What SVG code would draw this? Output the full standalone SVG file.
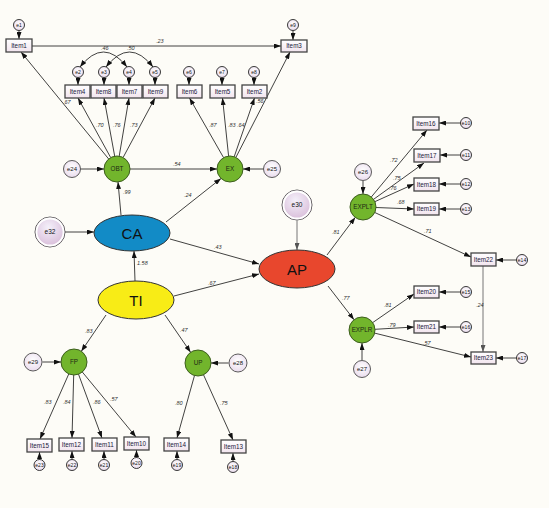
<svg xmlns="http://www.w3.org/2000/svg" width="549" height="508" viewBox="0 0 549 508">
<defs>
<marker id="ah" markerUnits="userSpaceOnUse" markerWidth="7" markerHeight="5" refX="7" refY="2.5" orient="auto-start-reverse"><path d="M0,0 L7,2.5 L0,5 z" fill="#111"/></marker>
<marker id="ahg" markerUnits="userSpaceOnUse" markerWidth="7" markerHeight="5" refX="7" refY="2.5" orient="auto"><path d="M0,0 L7,2.5 L0,5 z" fill="#555"/></marker>
<radialGradient id="eg" cx="0.45" cy="0.35" r="0.7"><stop offset="0" stop-color="#f4f0fa"/><stop offset="1" stop-color="#d6b8d6"/></radialGradient>
<radialGradient id="egs" cx="0.5" cy="0.4" r="0.7"><stop offset="0" stop-color="#ffffff"/><stop offset="1" stop-color="#e6d6ea"/></radialGradient>
<linearGradient id="bg" x1="0" y1="0" x2="0" y2="1"><stop offset="0" stop-color="#ffffff"/><stop offset="1" stop-color="#f2e4ee"/></linearGradient>
</defs>
<style>
.ln{stroke:#111;stroke-width:0.8;fill:none;marker-end:url(#ah)}
.lg{stroke:#666;stroke-width:0.9;fill:none;marker-end:url(#ahg)}
.cov{stroke:#111;stroke-width:0.8;fill:none;marker-start:url(#ah);marker-end:url(#ah)}
.it rect{fill:url(#bg);stroke:#444;stroke-width:1.3}
.it text{font-family:"Liberation Sans",Arial,sans-serif;font-size:6.3px;fill:#1a1a3a;text-anchor:middle}
.es circle{fill:url(#egs);stroke:#222;stroke-width:0.9}
.es text{font-family:"Liberation Sans",Arial,sans-serif;font-size:5px;fill:#111;text-anchor:middle}
.em circle{fill:url(#egs);stroke:#333;stroke-width:0.8}
.em text{font-family:"Liberation Sans",Arial,sans-serif;font-size:6px;fill:#111;text-anchor:middle}
.eb .o{fill:url(#eg);stroke:#444;stroke-width:0.9}
.eb .r{fill:none;stroke:#fff;stroke-width:1.8}
.eb text{font-family:"Liberation Sans",Arial,sans-serif;font-size:6.5px;fill:#111;text-anchor:middle}
.lv circle{fill:#72b52c;stroke:#3d5e1e;stroke-width:1}
.lv text{font-family:"Liberation Sans",Arial,sans-serif;font-size:6.3px;fill:#1e2a14;text-anchor:middle}
.big ellipse{stroke:#333;stroke-width:1}
.big text{font-family:"Liberation Sans",Arial,sans-serif;font-size:15px;fill:#111;text-anchor:middle}
.lb{font-family:"Liberation Sans",Arial,sans-serif;font-size:5.5px;font-style:italic;fill:#333}
</style>
<rect width="549" height="508" fill="#fdfcf7"/>

<g id="connectors">
<line class="ln" x1="19" y1="30.5" x2="19" y2="39"/>
<line class="ln" x1="293" y1="30.5" x2="293" y2="40"/>
<line class="ln" x1="78" y1="77.5" x2="78" y2="85"/>
<line class="ln" x1="104" y1="77.5" x2="104" y2="85"/>
<line class="ln" x1="129" y1="77.5" x2="129" y2="85"/>
<line class="ln" x1="155" y1="77.5" x2="155" y2="85"/>
<line class="ln" x1="189" y1="77.5" x2="189" y2="85"/>
<line class="ln" x1="222" y1="77.5" x2="222" y2="85"/>
<line class="ln" x1="254" y1="77.5" x2="254" y2="85"/>
<path class="cov" d="M80,67 Q103.5,37 127,67"/>
<path class="cov" d="M106,67 Q129.5,37 153,67"/>
<line class="ln" x1="32" y1="46" x2="281" y2="46"/>
<line class="ln" x1="108.7" y1="159" x2="21" y2="52"/>
<line class="ln" x1="110.7" y1="157.6" x2="78" y2="98"/>
<line class="ln" x1="114.7" y1="156.2" x2="104" y2="98"/>
<line class="ln" x1="119.2" y1="156.2" x2="129" y2="98"/>
<line class="ln" x1="123.1" y1="157.5" x2="155" y2="98"/>
<line class="ln" x1="223.6" y1="157.7" x2="189.5" y2="98"/>
<line class="ln" x1="228.6" y1="156.1" x2="222.5" y2="98"/>
<line class="ln" x1="234.2" y1="156.7" x2="254.5" y2="98"/>
<line class="ln" x1="235.9" y1="157.4" x2="290" y2="52"/>
<line class="ln" x1="80.5" y1="169" x2="104" y2="169"/>
<line class="ln" x1="263.5" y1="169" x2="243" y2="169"/>
<line class="ln" x1="130" y1="169" x2="217" y2="169"/>
<line class="ln" x1="121" y1="215" x2="118" y2="182"/>
<line class="ln" x1="166" y1="222" x2="221" y2="178.5"/>
<line class="ln" x1="65" y1="232" x2="94" y2="232"/>
<line class="ln" x1="135" y1="281" x2="134" y2="251"/>
<line class="ln" x1="170" y1="239" x2="259" y2="264"/>
<line class="ln" x1="174" y1="296" x2="259" y2="274"/>
<line class="lg" x1="297" y1="220.5" x2="297" y2="250"/>
<line class="ln" x1="327" y1="255" x2="355.2" y2="217.4"/>
<line class="ln" x1="328" y1="286" x2="354" y2="319.7"/>
<line class="ln" x1="363" y1="181" x2="363" y2="194"/>
<line class="ln" x1="362" y1="360" x2="362" y2="343"/>
<line class="ln" x1="371.3" y1="197" x2="427" y2="130"/>
<line class="ln" x1="373.5" y1="199.4" x2="424" y2="163"/>
<line class="ln" x1="374.8" y1="201.7" x2="414" y2="184"/>
<line class="ln" x1="376" y1="207.5" x2="414" y2="209"/>
<line class="ln" x1="374.8" y1="212.5" x2="471" y2="257"/>
<line class="ln" x1="461" y1="123" x2="439" y2="123"/>
<line class="ln" x1="461" y1="155" x2="440" y2="155"/>
<line class="ln" x1="461" y1="184" x2="439" y2="184"/>
<line class="ln" x1="461" y1="209" x2="439" y2="209"/>
<line class="ln" x1="517" y1="260" x2="496" y2="260"/>
<line class="ln" x1="461" y1="292" x2="439" y2="292"/>
<line class="ln" x1="461" y1="327" x2="439" y2="327"/>
<line class="ln" x1="517" y1="358" x2="496" y2="358"/>
<line class="lg" x1="483" y1="266" x2="483" y2="352"/>
<line class="ln" x1="372.7" y1="322.6" x2="414" y2="294"/>
<line class="ln" x1="375" y1="329.3" x2="414" y2="327"/>
<line class="ln" x1="374.6" y1="333.1" x2="471" y2="357"/>
<line class="ln" x1="106" y1="315" x2="81.3" y2="351.3"/>
<line class="ln" x1="165" y1="315" x2="190.6" y2="352.3"/>
<line class="ln" x1="42.5" y1="362" x2="61" y2="362"/>
<line class="ln" x1="228.5" y1="363" x2="211" y2="363"/>
<line class="ln" x1="68.8" y1="373.9" x2="40" y2="439"/>
<line class="ln" x1="73.7" y1="375" x2="72" y2="438"/>
<line class="ln" x1="78.5" y1="374.2" x2="102" y2="438"/>
<line class="ln" x1="82.3" y1="372" x2="136" y2="437"/>
<line class="ln" x1="194.5" y1="375.5" x2="177" y2="438"/>
<line class="ln" x1="203.5" y1="374.8" x2="233" y2="440"/>
<line class="ln" x1="39.5" y1="460" x2="39.5" y2="452"/>
<line class="ln" x1="72" y1="460" x2="72" y2="451"/>
<line class="ln" x1="104" y1="460" x2="104" y2="451"/>
<line class="ln" x1="136.5" y1="458" x2="136.5" y2="450"/>
<line class="ln" x1="177" y1="460" x2="177" y2="451"/>
<line class="ln" x1="233" y1="462" x2="233" y2="453"/>
</g>

<g id="labels">
<text class="lb" x="156" y="43">.23</text>
<text class="lb" x="101" y="50">.46</text>
<text class="lb" x="127" y="50">.50</text>
<text class="lb" x="63" y="104">.67</text>
<text class="lb" x="96" y="127">.70</text>
<text class="lb" x="113" y="127">.76</text>
<text class="lb" x="130" y="127">.73</text>
<text class="lb" x="209" y="127">.87</text>
<text class="lb" x="228" y="127">.83</text>
<text class="lb" x="237" y="127">.64</text>
<text class="lb" x="256" y="103">.56</text>
<text class="lb" x="173" y="166">.54</text>
<text class="lb" x="123" y="194">.99</text>
<text class="lb" x="184" y="197">.24</text>
<text class="lb" x="137" y="265">1.58</text>
<text class="lb" x="214" y="249">.43</text>
<text class="lb" x="208" y="285">.67</text>
<text class="lb" x="332" y="234">.81</text>
<text class="lb" x="342" y="300">.77</text>
<text class="lb" x="390" y="162">.72</text>
<text class="lb" x="393" y="180">.75</text>
<text class="lb" x="389" y="190">.76</text>
<text class="lb" x="397" y="204">.68</text>
<text class="lb" x="424" y="233">.71</text>
<text class="lb" x="476" y="307">.24</text>
<text class="lb" x="384" y="307">.81</text>
<text class="lb" x="388" y="327">.79</text>
<text class="lb" x="423" y="345">.57</text>
<text class="lb" x="85" y="333">.83</text>
<text class="lb" x="180" y="332">.47</text>
<text class="lb" x="44" y="404">.83</text>
<text class="lb" x="63" y="404">.84</text>
<text class="lb" x="93" y="404">.86</text>
<text class="lb" x="110" y="401">.57</text>
<text class="lb" x="175" y="405">.80</text>
<text class="lb" x="220" y="405">.75</text>
</g>

<g id="Item1" class="it"><rect x="6" y="39" width="26" height="13"/><text x="19" y="47.8">Item1</text></g>
<g id="Item3" class="it"><rect x="281" y="40" width="26" height="12"/><text x="294" y="48.3">Item3</text></g>
<g id="Item4" class="it"><rect x="65" y="85" width="25" height="13"/><text x="77.5" y="93.8">Item4</text></g>
<g id="Item8" class="it"><rect x="91" y="85" width="25" height="13"/><text x="103.5" y="93.8">Item8</text></g>
<g id="Item7" class="it"><rect x="117" y="85" width="25" height="13"/><text x="129.5" y="93.8">Item7</text></g>
<g id="Item9" class="it"><rect x="143" y="85" width="25" height="13"/><text x="155.5" y="93.8">Item9</text></g>
<g id="Item6" class="it"><rect x="177" y="85" width="25" height="13"/><text x="189.5" y="93.8">Item6</text></g>
<g id="Item5" class="it"><rect x="210" y="85" width="25" height="13"/><text x="222.5" y="93.8">Item5</text></g>
<g id="Item2" class="it"><rect x="242" y="85" width="25" height="13"/><text x="254.5" y="93.8">Item2</text></g>
<g id="Item16" class="it"><rect x="413" y="117" width="26" height="13"/><text x="426" y="125.8">Item16</text></g>
<g id="Item17" class="it"><rect x="414" y="149" width="26" height="13"/><text x="427" y="157.8">Item17</text></g>
<g id="Item18" class="it"><rect x="414" y="178" width="25" height="13"/><text x="426.5" y="186.8">Item18</text></g>
<g id="Item19" class="it"><rect x="414" y="203" width="25" height="12"/><text x="426.5" y="211.3">Item19</text></g>
<g id="Item22" class="it"><rect x="471" y="253" width="25" height="13"/><text x="483.5" y="261.8">Item22</text></g>
<g id="Item20" class="it"><rect x="414" y="286" width="25" height="12"/><text x="426.5" y="294.3">Item20</text></g>
<g id="Item21" class="it"><rect x="414" y="321" width="25" height="12"/><text x="426.5" y="329.3">Item21</text></g>
<g id="Item23" class="it"><rect x="471" y="352" width="25" height="12"/><text x="483.5" y="360.3">Item23</text></g>
<g id="Item15" class="it"><rect x="27" y="439" width="25" height="13"/><text x="39.5" y="447.8">Item15</text></g>
<g id="Item12" class="it"><rect x="59" y="438" width="25" height="13"/><text x="71.5" y="446.8">Item12</text></g>
<g id="Item11" class="it"><rect x="92" y="438" width="25" height="13"/><text x="104.5" y="446.8">Item11</text></g>
<g id="Item10" class="it"><rect x="124" y="437" width="25" height="13"/><text x="136.5" y="445.8">Item10</text></g>
<g id="Item14" class="it"><rect x="164" y="438" width="25" height="13"/><text x="176.5" y="446.8">Item14</text></g>
<g id="Item13" class="it"><rect x="221" y="440" width="25" height="13"/><text x="233.5" y="448.8">Item13</text></g>

<g id="e1" class="es"><circle cx="19" cy="25" r="5.5"/><text x="19" y="26.8">e1</text></g>
<g id="e9" class="es"><circle cx="293" cy="25" r="5.5"/><text x="293" y="26.8">e9</text></g>
<g id="e2" class="es"><circle cx="78" cy="72" r="5.5"/><text x="78" y="73.8">e2</text></g>
<g id="e3" class="es"><circle cx="104" cy="72" r="5.5"/><text x="104" y="73.8">e3</text></g>
<g id="e4" class="es"><circle cx="129" cy="72" r="5.5"/><text x="129" y="73.8">e4</text></g>
<g id="e5" class="es"><circle cx="155" cy="72" r="5.5"/><text x="155" y="73.8">e5</text></g>
<g id="e6" class="es"><circle cx="189" cy="72" r="5.5"/><text x="189" y="73.8">e6</text></g>
<g id="e7" class="es"><circle cx="222" cy="72" r="5.5"/><text x="222" y="73.8">e7</text></g>
<g id="e8" class="es"><circle cx="254" cy="72" r="5.5"/><text x="254" y="73.8">e8</text></g>
<g id="e10" class="es"><circle cx="466" cy="123" r="5.5"/><text x="466" y="124.8">e10</text></g>
<g id="e11" class="es"><circle cx="466" cy="155" r="5.5"/><text x="466" y="156.8">e11</text></g>
<g id="e12" class="es"><circle cx="466" cy="184" r="5.5"/><text x="466" y="185.8">e12</text></g>
<g id="e13" class="es"><circle cx="466" cy="209" r="5.5"/><text x="466" y="210.8">e13</text></g>
<g id="e14" class="es"><circle cx="522" cy="260" r="5.5"/><text x="522" y="261.8">e14</text></g>
<g id="e15" class="es"><circle cx="466" cy="292" r="5.5"/><text x="466" y="293.8">e15</text></g>
<g id="e16" class="es"><circle cx="466" cy="327" r="5.5"/><text x="466" y="328.8">e16</text></g>
<g id="e17" class="es"><circle cx="522" cy="358" r="5.5"/><text x="522" y="359.8">e17</text></g>
<g id="e23" class="es"><circle cx="39.5" cy="465" r="5.5"/><text x="39.5" y="466.8">e23</text></g>
<g id="e22" class="es"><circle cx="72" cy="465" r="5.5"/><text x="72" y="466.8">e22</text></g>
<g id="e21" class="es"><circle cx="104" cy="465" r="5.5"/><text x="104" y="466.8">e21</text></g>
<g id="e20" class="es"><circle cx="136.5" cy="463" r="5.5"/><text x="136.5" y="464.8">e20</text></g>
<g id="e19" class="es"><circle cx="177" cy="465" r="5.5"/><text x="177" y="466.8">e19</text></g>
<g id="e18" class="es"><circle cx="233" cy="467" r="5.5"/><text x="233" y="468.8">e18</text></g>

<g id="e24" class="em"><circle cx="72" cy="169" r="8.5"/><text x="72" y="171">e24</text></g>
<g id="e25" class="em"><circle cx="272" cy="169" r="8.5"/><text x="272" y="171">e25</text></g>
<g id="e26" class="em"><circle cx="363" cy="172" r="8.5"/><text x="363" y="174">e26</text></g>
<g id="e27" class="em"><circle cx="362" cy="369" r="8.5"/><text x="362" y="371">e27</text></g>
<g id="e29" class="em"><circle cx="33" cy="362" r="9"/><text x="33" y="364">e29</text></g>
<g id="e28" class="em"><circle cx="238" cy="363" r="9"/><text x="238" y="365">e28</text></g>

<g id="e32" class="eb"><circle class="o" cx="50" cy="232" r="15"/><circle class="r" cx="50" cy="232" r="13.5"/><text x="50" y="234.3">e32</text></g>
<g id="e30" class="eb"><circle class="o" cx="297" cy="205" r="15"/><circle class="r" cx="297" cy="205" r="13.5"/><text x="297" y="207.3">e30</text></g>

<g id="OBT" class="lv"><circle cx="117" cy="169" r="13"/><text x="117" y="171.2">OBT</text></g>
<g id="EX" class="lv"><circle cx="230" cy="169" r="13"/><text x="230" y="171.2">EX</text></g>
<g id="EXPLT" class="lv"><circle cx="363" cy="207" r="13"/><text x="363" y="209.2">EXPLT</text></g>
<g id="EXPLR" class="lv"><circle cx="362" cy="330" r="13"/><text x="362" y="332.2">EXPLR</text></g>
<g id="FP" class="lv"><circle cx="74" cy="362" r="13"/><text x="74" y="364.2">FP</text></g>
<g id="UP" class="lv"><circle cx="198" cy="363" r="13"/><text x="198" y="365.2">UP</text></g>

<g id="CA" class="big"><ellipse cx="132" cy="233" rx="38" ry="18" fill="#128bc6"/><text x="132" y="238.5">CA</text></g>
<g id="AP" class="big"><ellipse cx="297" cy="269" rx="38" ry="19" fill="#e8472d"/><text x="297" y="274.5">AP</text></g>
<g id="TI" class="big"><ellipse cx="136" cy="300" rx="38" ry="19" fill="#f8ec16"/><text x="136" y="305.5">TI</text></g>
</svg>
